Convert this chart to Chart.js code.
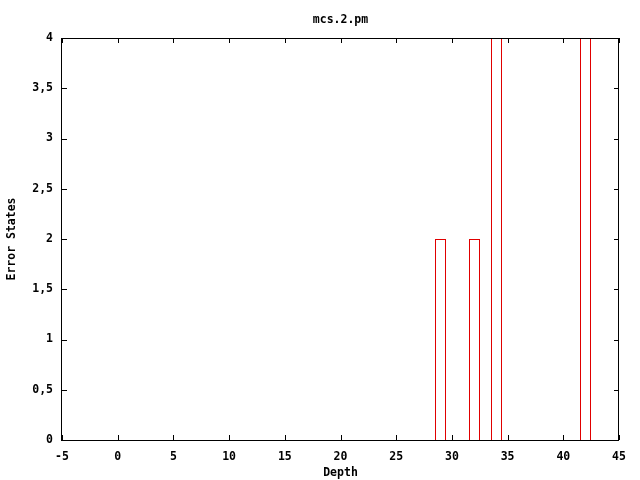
<!DOCTYPE html>
<html>
<head>
<meta charset="utf-8">
<script src="https://cdn.jsdelivr.net/npm/chart.js@4/dist/chart.umd.min.js"></script>
<style>
  html, body { margin: 0; padding: 0; background: #ffffff; }
  #wrap { width: 640px; height: 480px; position: relative; }
</style>
</head>
<body>
<div id="wrap"><canvas id="c" width="640" height="480"></canvas></div>
<script>
const chartTitle = 'mcs.2.pm';
const xTitle = 'Depth';
const yTitle = 'Error States';
const depths = [29, 32, 34, 42];
const errorStates = [2, 2, 4, 4];
const xMin = -5, xMax = 45, xStep = 5;
const yMin = 0, yMax = 4, yStep = 0.5;

const FONT = { family: "'DejaVu Sans Mono', 'Liberation Mono', monospace", size: 11.5, weight: 'bold' };
const RED = '#e00000';

// snap bar rectangles computed by Chart.js to whole pixels so 1px borders stay crisp
const crispBars = {
  id: 'crispBars',
  beforeDatasetsDraw(chart) {
    chart.getDatasetMeta(0).data.forEach((el) => {
      const w = Math.round(el.width);
      const left = Math.round(el.x - el.width / 2);
      el.width = w;
      el.x = left + w / 2;
      el.y = Math.round(el.y);
      el.base = Math.round(el.base);
    });
  }
};

// gnuplot-style frame with inward ticks on all four sides
const frameTicks = {
  id: 'frameTicks',
  afterDatasetsDraw(chart) {
    const { ctx, chartArea: a, scales } = chart;
    const len = 5;
    ctx.save();
    ctx.strokeStyle = '#000000';
    ctx.lineWidth = 1;
    ctx.beginPath();
    scales.x.ticks.forEach((t) => {
      const px = Math.round(scales.x.getPixelForValue(t.value)) + 0.5;
      ctx.moveTo(px, a.bottom); ctx.lineTo(px, a.bottom - len);
      ctx.moveTo(px, a.top); ctx.lineTo(px, a.top + len);
    });
    scales.y.ticks.forEach((t) => {
      const py = Math.round(scales.y.getPixelForValue(t.value)) + 0.5;
      ctx.moveTo(a.left, py); ctx.lineTo(a.left + len, py);
      ctx.moveTo(a.right, py); ctx.lineTo(a.right - len, py);
    });
    ctx.stroke();
    ctx.strokeRect(Math.round(a.left) - 0.5, Math.round(a.top) + 0.5,
                   Math.round(a.right - a.left), Math.round(a.bottom - a.top));
    ctx.restore();
  }
};

new Chart(document.getElementById('c'), {
  type: 'bar',
  data: {
    datasets: [{
      data: depths.map((d, i) => ({ x: d, y: errorStates[i] })),
      backgroundColor: 'rgba(0,0,0,0)',
      borderColor: RED,
      borderWidth: 1,
      borderSkipped: 'bottom',
      inflateAmount: 0,
      barPercentage: 0.5,
      categoryPercentage: 1.0
    }]
  },
  options: {
    responsive: false,
    animation: false,
    devicePixelRatio: 1,
    layout: { padding: { left: 0, right: 21, top: 0, bottom: 0 } },
    plugins: {
      legend: { display: false },
      tooltip: { enabled: false },
      title: { display: false }
    },
    scales: {
      x: {
        type: 'linear',
        position: 'bottom',
        min: xMin, max: xMax,
        offset: false,
        grid: { display: false, drawTicks: false },
        border: { display: false },
        ticks: {
          stepSize: xStep,
          color: '#000000',
          font: FONT,
          padding: 10,
          maxRotation: 0,
          autoSkip: false
        },
        title: { display: true, text: xTitle, color: '#000000', font: FONT, padding: 0 },
        afterFit(s) { s.height = 40; }
      },
      xTop: {
        type: 'linear',
        position: 'top',
        min: xMin, max: xMax,
        offset: false,
        grid: { display: false, drawTicks: false },
        border: { display: false },
        ticks: { display: false },
        title: { display: true, text: chartTitle, color: '#000000', font: FONT, padding: { top: 13, bottom: 0 } },
        afterFit(s) { s.height = 38; }
      },
      y: {
        type: 'linear',
        min: yMin, max: yMax,
        grid: { display: false, drawTicks: false },
        border: { display: false },
        ticks: {
          stepSize: yStep,
          color: '#000000',
          font: FONT,
          padding: 9,
          callback: (v) => String(v).replace('.', ',')
        },
        title: { display: true, text: yTitle, color: '#000000', font: FONT, padding: { top: 5, bottom: 0 } },
        afterFit(s) { s.width = 62; }
      }
    }
  },
  plugins: [crispBars, frameTicks]
});
</script>
</body>
</html>
